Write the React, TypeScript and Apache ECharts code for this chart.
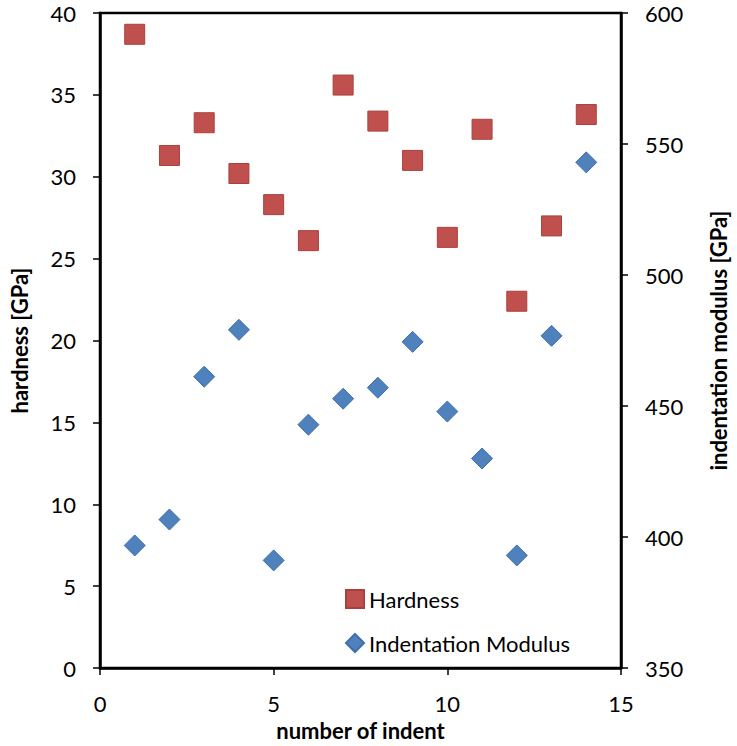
import React, { useEffect, useRef } from "react";
import * as echarts from "echarts";

const indents = [1, 2, 3, 4, 5, 6, 7, 8, 9, 10, 11, 12, 13, 14];
const hardness = [38.7, 31.3, 33.3, 30.2, 28.3, 26.1, 35.6, 33.4, 31.0, 26.3, 32.9, 22.4, 27.0, 33.8];
const modulus = [396.8, 406.7, 461.2, 479.1, 391.1, 442.9, 452.8, 457.0, 474.5, 447.9, 430.0, 393.0, 476.8, 543.0];
const seriesNames = ["Hardness", "Indentation Modulus"];

const FONT = "Lato";

export default function App() {
  const ref = useRef<HTMLDivElement>(null);
  useEffect(() => {
    if (!ref.current) return;
    const chart = echarts.init(ref.current, null, { renderer: "svg" });
    const axisLine = { show: true, lineStyle: { color: "#000", width: 2.5 } };
    const axisTick = { show: true, inside: false, length: 7, lineStyle: { color: "#000", width: 1.5 } };
    const label = { color: "#000", fontSize: 22, fontFamily: FONT };
    const nameStyle = { color: "#000", fontSize: 22, fontWeight: "bold", fontFamily: FONT };
    chart.setOption({
      animation: false,
      backgroundColor: "#fff",
      grid: {
        left: 93,
        right: 111,
        top: 13,
        bottom: 77,
        show: true,
        borderColor: "#000",
        borderWidth: 2.5,
        containLabel: false,
      },
      legend: {
        orient: "vertical",
        left: 340,
        top: 583,
        itemWidth: 18,
        itemHeight: 18,
        itemGap: 22,
        textStyle: { color: "#000", fontSize: 22, fontFamily: FONT },
        data: [
          { name: seriesNames[0], icon: "rect" },
          { name: seriesNames[1], icon: "diamond" },
        ],
      },
      xAxis: {
        type: "value",
        min: 0,
        max: 15,
        interval: 5,
        name: "number of indent",
        nameLocation: "middle",
        nameGap: 50,
        nameTextStyle: nameStyle,
        axisLine,
        axisTick,
        axisLabel: { ...label, margin: 24 },
        splitLine: { show: false },
      },
      yAxis: [
        {
          type: "value",
          min: 0,
          max: 40,
          interval: 5,
          position: "left",
          name: "hardness [GPa]",
          nameLocation: "middle",
          nameRotate: 90,
          nameGap: 70,
          nameTextStyle: nameStyle,
          axisLine,
          axisTick,
          axisLabel: { ...label, margin: 24 },
          splitLine: { show: false },
        },
        {
          type: "value",
          min: 350,
          max: 600,
          interval: 50,
          position: "right",
          name: "indentation modulus [GPa]",
          nameLocation: "middle",
          nameRotate: 90,
          nameGap: 86,
          nameTextStyle: nameStyle,
          axisLine,
          axisTick,
          axisLabel: { ...label, margin: 24 },
          splitLine: { show: false },
        },
      ],
      series: [
        {
          name: seriesNames[0],
          type: "scatter",
          yAxisIndex: 0,
          symbol: "rect",
          symbolSize: 20,
          itemStyle: { color: "#C0504D", borderColor: "#A8403D", borderWidth: 1, opacity: 1 },
          data: indents.map((x, i) => [x, hardness[i]]),
        },
        {
          name: seriesNames[1],
          type: "scatter",
          yAxisIndex: 1,
          symbol: "diamond",
          symbolSize: [21, 21],
          itemStyle: { color: "#4F81BD", borderColor: "#3F6FA8", borderWidth: 1, opacity: 1 },
          data: indents.map((x, i) => [x, modulus[i]]),
        },
      ],
    });
    return () => chart.dispose();
  }, []);
  return (
    <div
      ref={ref}
      style={{ position: "fixed", left: 0, top: 0, width: 737, height: 746, background: "#fff" }}
    />
  );
}
